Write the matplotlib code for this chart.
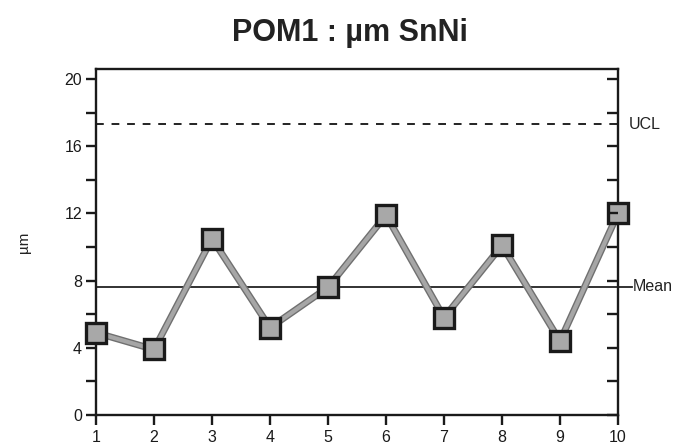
import numpy as np
import matplotlib
matplotlib.use("Agg")
import matplotlib.pyplot as plt
from matplotlib.ticker import MultipleLocator

plt.rcParams['font.family'] = ['Liberation Sans', 'DejaVu Sans']

# --- data ---
samples = [1, 2, 3, 4, 5, 6, 7, 8, 9, 10]
values = [4.9, 3.9, 10.5, 5.2, 7.6, 11.9, 5.8, 10.1, 4.4, 12.0]
mean_val = 7.63
ucl_val = 17.3

fig = plt.figure(figsize=(6.87, 4.45), dpi=100)
ax = fig.add_axes([96/687, 1 - 415/445, 522/687, 346/445])

ax.set_xlim(1, 10)
ax.set_ylim(0, 20.6)

# control lines
ax.axhline(ucl_val, color='#222222', lw=1.4, ls=(0, (4, 4)), zorder=1)
ax.plot([1, 10.24], [mean_val, mean_val], color='#222222', lw=1.3,
        clip_on=False, zorder=1)
ax.text(10.18, ucl_val, "UCL", va='center', ha='left', fontsize=11.5, color='#222222')
ax.text(10.26, mean_val, "Mean", va='center', ha='left', fontsize=11.5, color='#222222')

# series: gray band with darker outline
ax.plot(samples, values, color='#707070', lw=5, zorder=2, clip_on=False,
        solid_joinstyle='miter')
ax.plot(samples, values, color='#a6a6a6', lw=3, zorder=3, clip_on=False,
        solid_joinstyle='miter')
ax.plot(samples, values, ls='none', marker='s', ms=14.5, mfc='#a8a8a8',
        mec='#1a1a1a', mew=2.4, zorder=4, clip_on=False)

# axes styling
for sp in ax.spines.values():
    sp.set_linewidth(1.7)
    sp.set_color('#1a1a1a')

ax.set_xticks(samples)
ax.yaxis.set_major_locator(MultipleLocator(4))
ax.yaxis.set_minor_locator(MultipleLocator(2))
ax.tick_params(axis='x', direction='out', length=7, width=1.7, labelsize=11.5,
               pad=3.5, colors='#1a1a1a')
ax.tick_params(axis='y', which='both', direction='out', length=7, width=1.7,
               labelsize=11.5, pad=3, colors='#1a1a1a', right=False)

# inward ticks on right spine
ax2 = ax.twinx()
ax2.set_ylim(ax.get_ylim())
ax2.yaxis.set_major_locator(MultipleLocator(2))
ax2.tick_params(axis='y', direction='in', length=8, width=1.7, labelright=False,
                colors='#1a1a1a')
for sp in ax2.spines.values():
    sp.set_visible(False)

ax.set_ylabel("µm", fontsize=11, labelpad=24, color='#222222')

fig.text(350/687, 1 - 33/445, "POM1 : µm SnNi", ha='center', va='center',
         fontsize=22, fontweight='bold', color='#222222')

fig.savefig("out.png", dpi=100)
